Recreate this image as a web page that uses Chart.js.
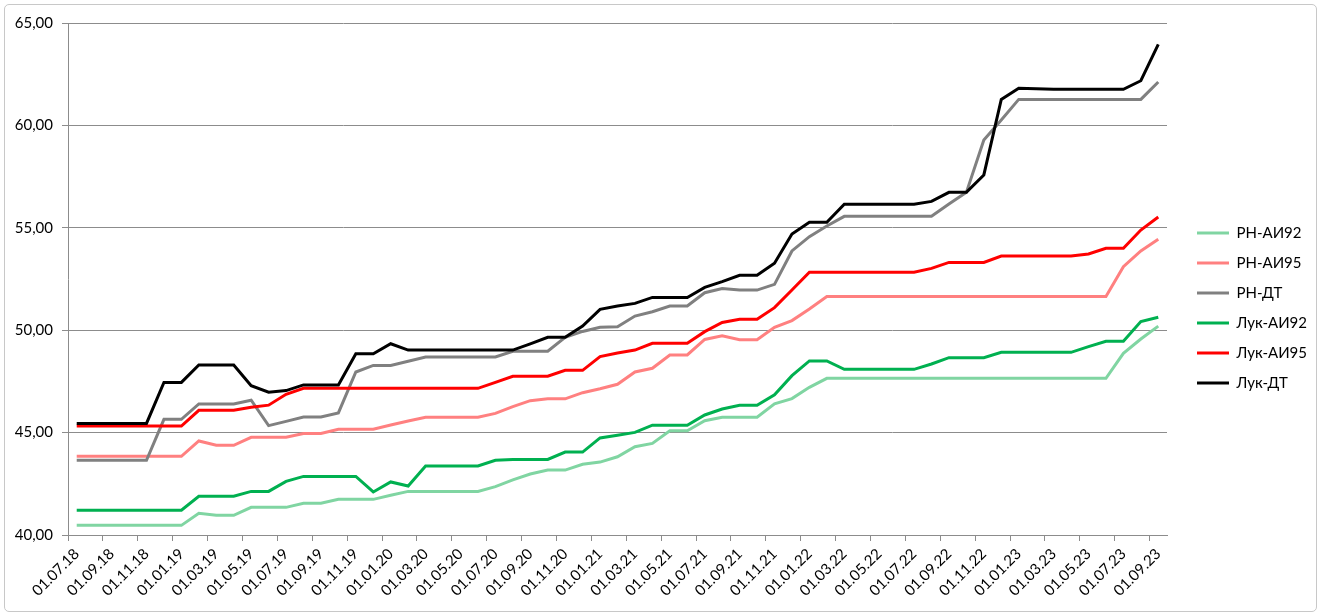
<!DOCTYPE html>
<html>
<head>
<meta charset="utf-8">
<script src="https://cdn.jsdelivr.net/npm/chart.js@4.4.1/dist/chart.umd.min.js"></script>
<style>
  html, body { margin: 0; padding: 0; background: #fff; }
  #frame {
    position: absolute; left: 4px; top: 4px;
    width: 1311px; height: 606px;
    border: 1px solid #c8c8c8; border-radius: 5px;
    background: #fff;
  }
</style>
</head>
<body>
<div id="frame"><canvas id="fuelChart"></canvas></div>
<script>
// monthly dates, 01.07.18 .. 01.09.23
var months = [
    '01.07.18', '01.08.18', '01.09.18', '01.10.18', '01.11.18', '01.12.18',
    '01.01.19', '01.02.19', '01.03.19', '01.04.19', '01.05.19', '01.06.19',
    '01.07.19', '01.08.19', '01.09.19', '01.10.19', '01.11.19', '01.12.19',
    '01.01.20', '01.02.20', '01.03.20', '01.04.20', '01.05.20', '01.06.20',
    '01.07.20', '01.08.20', '01.09.20', '01.10.20', '01.11.20', '01.12.20',
    '01.01.21', '01.02.21', '01.03.21', '01.04.21', '01.05.21', '01.06.21',
    '01.07.21', '01.08.21', '01.09.21', '01.10.21', '01.11.21', '01.12.21',
    '01.01.22', '01.02.22', '01.03.22', '01.04.22', '01.05.22', '01.06.22',
    '01.07.22', '01.08.22', '01.09.22', '01.10.22', '01.11.22', '01.12.22',
    '01.01.23', '01.02.23', '01.03.23', '01.04.23', '01.05.23', '01.06.23',
    '01.07.23', '01.08.23', '01.09.23'
];

var rnAi92 = [
    40.47, 40.47, 40.47, 40.47, 40.47, 40.47, 40.47, 41.06, 40.96, 40.96,
    41.35, 41.35, 41.35, 41.55, 41.55, 41.74, 41.74, 41.74, 41.94, 42.13,
    42.13, 42.13, 42.13, 42.13, 42.36, 42.69, 42.98, 43.17, 43.17, 43.45,
    43.56, 43.82, 44.31, 44.47, 45.09, 45.09, 45.58, 45.75, 45.75, 45.75,
    46.40, 46.66, 47.21, 47.65, 47.65, 47.65, 47.65, 47.65, 47.65, 47.65,
    47.65, 47.65, 47.65, 47.65, 47.65, 47.65, 47.65, 47.65, 47.65, 47.65,
    48.87, 49.57, 50.20
];
var rnAi95 = [
    43.84, 43.84, 43.84, 43.84, 43.84, 43.84, 43.84, 44.59, 44.38, 44.38,
    44.77, 44.77, 44.77, 44.96, 44.96, 45.16, 45.16, 45.16, 45.37, 45.57,
    45.75, 45.75, 45.75, 45.75, 45.94, 46.27, 46.56, 46.65, 46.65, 46.95,
    47.14, 47.36, 47.96, 48.14, 48.79, 48.79, 49.55, 49.73, 49.53, 49.53,
    50.14, 50.47, 51.04, 51.65, 51.65, 51.65, 51.65, 51.65, 51.65, 51.65,
    51.65, 51.65, 51.65, 51.65, 51.65, 51.65, 51.65, 51.65, 51.65, 51.65,
    53.10, 53.87, 54.44
];
var rnDt = [
    43.65, 43.65, 43.65, 43.65, 43.65, 45.65, 45.65, 46.40, 46.40, 46.40,
    46.58, 45.34, 45.55, 45.76, 45.76, 45.96, 47.96, 48.28, 48.28, 48.48,
    48.69, 48.69, 48.69, 48.69, 48.69, 48.97, 48.97, 48.97, 49.65, 49.94,
    50.14, 50.17, 50.69, 50.90, 51.18, 51.18, 51.83, 52.04, 51.96, 51.96,
    52.24, 53.87, 54.57, 55.09, 55.56, 55.56, 55.56, 55.56, 55.56, 55.56,
    56.16, 56.73, 59.29, 60.26, 61.27, 61.27, 61.27, 61.27, 61.27, 61.27,
    61.27, 61.27, 62.12
];
var lukAi92 = [
    41.21, 41.21, 41.21, 41.21, 41.21, 41.21, 41.21, 41.89, 41.89, 41.89,
    42.13, 42.13, 42.62, 42.86, 42.86, 42.86, 42.86, 42.10, 42.59, 42.39,
    43.37, 43.37, 43.37, 43.37, 43.65, 43.69, 43.69, 43.69, 44.05, 44.05,
    44.74, 44.87, 45.01, 45.36, 45.36, 45.36, 45.86, 46.15, 46.33, 46.33,
    46.85, 47.78, 48.50, 48.50, 48.09, 48.09, 48.09, 48.09, 48.09, 48.35,
    48.66, 48.66, 48.66, 48.92, 48.92, 48.92, 48.92, 48.92, 49.20, 49.46,
    49.46, 50.42, 50.63
];
var lukAi95 = [
    45.32, 45.32, 45.32, 45.32, 45.32, 45.32, 45.32, 46.09, 46.09, 46.09,
    46.24, 46.34, 46.87, 47.16, 47.16, 47.16, 47.16, 47.16, 47.16, 47.16,
    47.16, 47.16, 47.16, 47.16, 47.45, 47.75, 47.75, 47.75, 48.04, 48.04,
    48.71, 48.89, 49.03, 49.36, 49.36, 49.36, 49.93, 50.38, 50.53, 50.53,
    51.10, 51.96, 52.83, 52.83, 52.83, 52.83, 52.83, 52.83, 52.83, 53.02,
    53.31, 53.31, 53.31, 53.62, 53.62, 53.62, 53.62, 53.62, 53.72, 54.00,
    54.00, 54.89, 55.53
];
var lukDt = [
    45.45, 45.45, 45.45, 45.45, 45.45, 47.45, 47.45, 48.30, 48.30, 48.30,
    47.29, 46.97, 47.05, 47.33, 47.33, 47.33, 48.85, 48.85, 49.34, 49.03,
    49.03, 49.03, 49.03, 49.03, 49.03, 49.03, 49.33, 49.65, 49.65, 50.20,
    51.02, 51.18, 51.31, 51.60, 51.60, 51.60, 52.09, 52.37, 52.68, 52.68,
    53.27, 54.70, 55.27, 55.27, 56.15, 56.15, 56.15, 56.15, 56.15, 56.29,
    56.73, 56.73, 57.58, 61.27, 61.81, 61.79, 61.76, 61.76, 61.76, 61.76,
    61.76, 62.18, 63.96
];

var seriesNames = ['РН-АИ92', 'РН-АИ95', 'РН-ДТ', 'Лук-АИ92', 'Лук-АИ95', 'Лук-ДТ'];
var seriesData = [rnAi92, rnAi95, rnDt, lukAi92, lukAi95, lukDt];
var seriesColors = ['#80d5a2', '#ff8080', '#808080', '#00b050', '#ff0000', '#000000'];

var axisGray = '#8c8c8c';
var font = { family: 'Lato', size: 15 };

// Excel-like legend: fixed width and a bigger gap to the plot
var legendPlace = {
    id: 'legendPlace',
    beforeInit: function(chart) {
        var fit = chart.legend.fit;
        chart.legend.fit = function() {
            fit.call(this);
            this.width = 149;
        };
    },
    afterLayout: function(chart) {
        var lg = chart.legend;
        lg.left += 15; lg.right += 15;
        lg.top -= 9; lg.bottom -= 9;
    }
};

document.addEventListener('DOMContentLoaded', function() {
    var ctx = document.getElementById('fuelChart').getContext('2d');
    var datasets = seriesNames.map(function(name, i) {
        return {
            label: name,
            data: seriesData[i],
            borderColor: seriesColors[i],
            backgroundColor: seriesColors[i],
            borderWidth: 3,
            pointRadius: 0,
            tension: 0,
            order: seriesNames.length - i
        };
    });

    new Chart(ctx, {
        type: 'line',
        data: { labels: months, datasets: datasets },
        options: {
            responsive: true,
            maintainAspectRatio: false,
            animation: false,
            layout: { padding: { left: 0, top: 18, right: 0, bottom: 0 } },
            plugins: {
                tooltip: { enabled: false },
                legend: {
                    position: 'right',
                    labels: {
                        usePointStyle: true,
                        pointStyle: 'line',
                        pointStyleWidth: 32,
                        padding: 15,
                        color: '#000',
                        font: font,
                        sort: function(a, b) { return a.datasetIndex - b.datasetIndex; }
                    }
                }
            },
            scales: {
                x: {
                    type: 'category',
                    offset: true,
                    afterFit: function(scale) { scale.height = 76; },
                    border: { display: true, color: axisGray, width: 1 },
                    grid: {
                        offset: true,
                        drawOnChartArea: false,
                        drawTicks: true,
                        tickLength: 6,
                        tickColor: function(c) { return c.index % 2 === 0 ? axisGray : 'rgba(0,0,0,0)'; }
                    },
                    ticks: {
                        autoSkip: false,
                        minRotation: 45,
                        maxRotation: 45,
                        padding: 4,
                        color: '#000',
                        font: font,
                        callback: function(v, i) { return i % 2 === 0 ? months[i] : ''; }
                    }
                },
                y: {
                    min: 40,
                    max: 65,
                    afterFit: function(scale) { scale.width = 63; },
                    border: { display: true, color: axisGray, width: 1 },
                    grid: { color: axisGray, tickLength: 6, tickColor: axisGray },
                    ticks: {
                        stepSize: 5,
                        padding: 9,
                        color: '#000',
                        font: font,
                        callback: function(v) { return v.toFixed(2).replace('.', ','); }
                    }
                }
            }
        },
        plugins: [legendPlace]
    });
});
</script>
</body>
</html>
